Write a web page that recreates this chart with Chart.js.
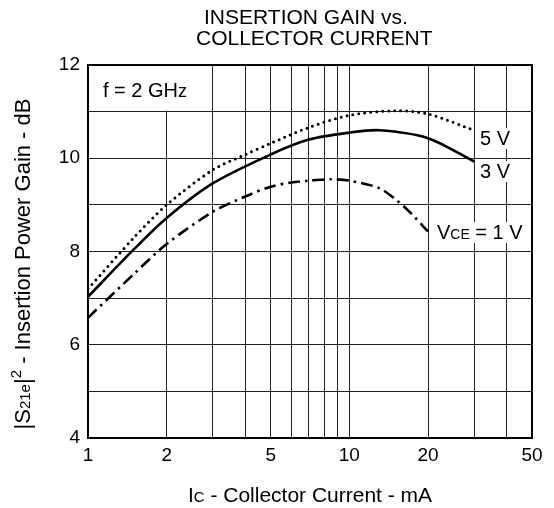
<!DOCTYPE html>
<html>
<head>
<meta charset="utf-8">
<script src="https://cdn.jsdelivr.net/npm/chart.js@4.4.0/dist/chart.umd.min.js"></script>
<style>
  html, body { margin: 0; padding: 0; background: #fff; }
  #wrap { width: 554px; height: 508px; position: relative; }
</style>
</head>
<body>
<div id="wrap"><canvas id="chart"></canvas></div>
<script>
// values (Ic in mA, gain in dB)
const current5V = [1, 1.5, 2, 3, 4, 5, 7, 10, 15, 20, 30];
const gain5V = [7.2, 8.3, 9.0, 9.75, 10.08, 10.32, 10.66, 10.92, 11.02, 10.95, 10.6];
const current3V = [1, 1.5, 2, 3, 5, 7, 10, 13, 20, 30];
const gain3V = [7.03, 8.05, 8.72, 9.46, 10.08, 10.4, 10.55, 10.6, 10.43, 9.93];
const current1V = [1, 1.5, 2, 3, 4, 5, 6, 7, 8.5, 10, 13, 15, 17, 20];
const gain1V = [6.58, 7.52, 8.16, 8.85, 9.18, 9.39, 9.48, 9.52, 9.55, 9.52, 9.36, 9.12, 8.85, 8.43];

const xGridValues = [1, 2, 3, 4, 5, 6, 7, 8, 9, 10, 20, 30, 40, 50];
const xTickLabels = [1, 2, 5, 10, 20, 50];
const yTickLabels = [4, 6, 8, 10, 12];

const FONT = '"Liberation Sans", Arial, Helvetica, sans-serif';

const toPoints = (xs, ys) => xs.map((x, i) => ({ x: x, y: ys[i] }));

// draw text made of runs with different sizes (for subscripts)
function drawRuns(ctx, x, y, runs) {
  let cx = x;
  runs.forEach(r => {
    ctx.font = r.size + 'px ' + FONT;
    ctx.fillText(r.t, cx, y + (r.dy || 0));
    cx += ctx.measureText(r.t).width;
  });
  return cx;
}
function runsWidth(ctx, runs) {
  let w = 0;
  runs.forEach(r => {
    ctx.font = r.size + 'px ' + FONT;
    w += ctx.measureText(r.t).width;
  });
  return w;
}

const annotations = {
  id: 'annotations',
  beforeDatasetsDraw(chart) {
    const { ctx, scales: { x, y } } = chart;
    ctx.save();
    // white box behind the frequency note
    ctx.fillStyle = '#fff';
    ctx.fillRect(x.getPixelForValue(1) + 1, y.getPixelForValue(12) + 1,
      x.getPixelForValue(2) - x.getPixelForValue(1) + 1, y.getPixelForValue(11) - y.getPixelForValue(12) - 2);
    ctx.fillStyle = '#000';
    ctx.textBaseline = 'alphabetic';
    drawRuns(ctx, 103, 97, [{ t: 'f = 2 GH', size: 20 }, { t: 'z', size: 18 }]);
    ctx.restore();
  },
  afterDatasetsDraw(chart) {
    const { ctx } = chart;
    ctx.save();
    ctx.textBaseline = 'alphabetic';
    const labels = [
      { x: 480, y: 145, runs: [{ t: '5 V', size: 20 }] },
      { x: 480, y: 178, runs: [{ t: '3 V', size: 20 }] },
      { x: 437, y: 239, runs: [{ t: 'V', size: 20 }, { t: 'CE', size: 14 }, { t: ' = 1 V', size: 20 }] }
    ];
    labels.forEach(l => {
      const w = runsWidth(ctx, l.runs);
      ctx.fillStyle = '#fff';
      ctx.fillRect(l.x - 2, l.y - 17, w + 4, 21);
      ctx.fillStyle = '#000';
      drawRuns(ctx, l.x, l.y, l.runs);
    });

    // frame
    const a = chart.chartArea;
    ctx.strokeStyle = '#000';
    ctx.lineWidth = 2;
    ctx.strokeRect(a.left, a.top, a.right - a.left, a.bottom - a.top);

    // title
    ctx.fillStyle = '#000';
    ctx.textAlign = 'left';
    ctx.font = '21px ' + FONT;
    ctx.fillText('INSERTION GAIN vs.', 204, 24);
    ctx.fillText('COLLECTOR CURRENT', 196, 45);

    // x axis title
    const xRuns = [{ t: 'I', size: 21 }, { t: 'C', size: 15 }, { t: ' - Collector Current - mA', size: 21 }];
    drawRuns(ctx, 310 - runsWidth(ctx, xRuns) / 2, 502, xRuns);

    // y axis title
    const yRuns = [{ t: '|S', size: 22 }, { t: '21e', size: 15 }, { t: '|', size: 22 },
      { t: '2', size: 15, dy: -9 }, { t: ' - Insertion Power Gain - dB', size: 22 }];
    ctx.translate(30, 264);
    ctx.rotate(-Math.PI / 2);
    drawRuns(ctx, -runsWidth(ctx, yRuns) / 2, 0, yRuns);
    ctx.restore();
  }
};

const gridColor = '#222';

new Chart(document.getElementById('chart'), {
  type: 'line',
  data: {
    datasets: [
      {
        label: '5 V',
        data: toPoints(current5V, gain5V),
        borderColor: '#000',
        borderWidth: 3,
        borderDash: [0, 6],
        borderCapStyle: 'round',
        pointRadius: 0,
        tension: 0.3
      },
      {
        label: '3 V',
        data: toPoints(current3V, gain3V),
        borderColor: '#000',
        borderWidth: 2.6,
        pointRadius: 0,
        tension: 0.3
      },
      {
        label: 'VCE = 1 V',
        data: toPoints(current1V, gain1V),
        borderColor: '#000',
        borderWidth: 2.6,
        borderDash: [12, 5, 2.5, 5],
        pointRadius: 0,
        tension: 0.3
      }
    ]
  },
  options: {
    responsive: true,
    maintainAspectRatio: false,
    animation: false,
    layout: { padding: { left: 0, top: 65, right: 22, bottom: 0 } },
    plugins: {
      legend: { display: false },
      tooltip: { enabled: false }
    },
    scales: {
      x: {
        type: 'logarithmic',
        min: 1,
        max: 50,
        afterBuildTicks: s => { s.ticks = xGridValues.map(v => ({ value: v })); },
        afterFit: s => { s.height = 70; },
        ticks: {
          autoSkip: false,
          maxRotation: 0,
          color: '#000',
          padding: 6,
          font: { size: 19, family: FONT },
          callback: v => xTickLabels.includes(v) ? String(v) : ''
        },
        grid: { color: gridColor, lineWidth: 1, drawTicks: false },
        border: { display: false }
      },
      y: {
        min: 4,
        max: 12,
        afterFit: s => { s.width = 88; },
        ticks: {
          stepSize: 1,
          color: '#000',
          padding: 8,
          font: { size: 19, family: FONT },
          callback: v => yTickLabels.includes(v) ? String(v) : ''
        },
        grid: { color: gridColor, lineWidth: 1, drawTicks: false },
        border: { display: false }
      }
    }
  },
  plugins: [annotations]
});
</script>
</body>
</html>
